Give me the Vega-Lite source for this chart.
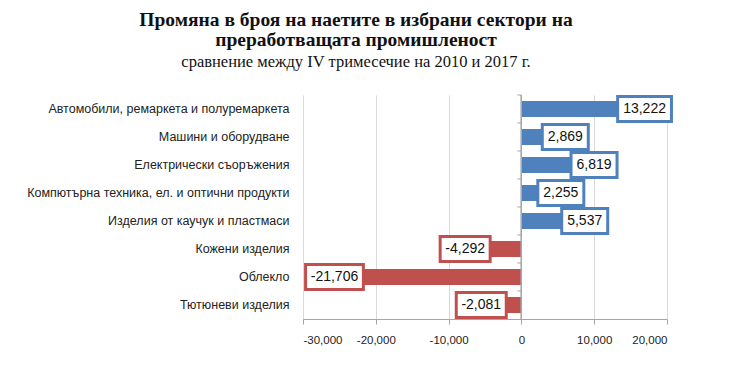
{
  "$schema": "https://vega.github.io/schema/vega-lite/v6.json",
  "width": 364,
  "height": 224,
  "autosize": {"type": "none"},
  "padding": {"left": 303, "top": 95, "right": 63, "bottom": 53},
  "background": "white",
  "title": {
    "text": ["Промяна в броя на наетите в избрани сектори на", "преработващата промишленост"],
    "subtitle": "сравнение между IV тримесечие на 2010 и 2017 г.",
    "anchor": "middle",
    "dx": -129,
    "offset": 22,
    "font": "Liberation Serif",
    "fontSize": 19.5,
    "fontWeight": "bold",
    "lineHeight": 20,
    "color": "#111",
    "subtitleFont": "Liberation Serif",
    "subtitleFontSize": 16.5,
    "subtitleColor": "#111",
    "subtitlePadding": 3
  },
  "config": {
    "view": {"stroke": null},
    "locale": {"number": {"decimal": ".", "thousands": ",", "grouping": [3], "currency": ["", ""], "minus": "-"}},
    "axis": {"labelFont": "Liberation Sans", "labelColor": "#222"}
  },
  "data": {
    "values": [
      {"sector": "Автомобили, ремаркета и полуремаркета", "value": 13222},
      {"sector": "Машини и оборудване", "value": 2869},
      {"sector": "Електрически съоръжения", "value": 6819},
      {"sector": "Компютърна техника, ел. и оптични продукти", "value": 2255},
      {"sector": "Изделия от каучук и пластмаси", "value": 5537},
      {"sector": "Кожени изделия", "value": -4292},
      {"sector": "Облекло", "value": -21706},
      {"sector": "Тютюневи изделия", "value": -2081}
    ]
  },
  "layer": [
    {
      "mark": {"type": "bar", "height": 16},
      "encoding": {
        "x": {
          "field": "value",
          "type": "quantitative",
          "scale": {"domain": [-30000, 20000], "nice": false},
          "axis": {
            "tickCount": 5,
            "format": ",.0f",
            "title": null,
            "grid": true,
            "gridColor": "#d9d9d9",
            "domainColor": "#a6a6a6",
            "tickColor": "#a6a6a6",
            "tickSize": 5,
            "labelFontSize": 11.5,
            "labelPadding": 10
          }
        },
        "y": {
          "field": "sector",
          "type": "nominal",
          "sort": null,
          "title": null,
          "scale": {"paddingInner": 0.43, "paddingOuter": 0.215},
          "axis": {
            "orient": "left",
            "domain": false,
            "ticks": false,
            "labelFontSize": 12.5,
            "labelPadding": 14,
            "labelLimit": 400
          }
        },
        "color": {
          "condition": {"test": "datum.value < 0", "value": "#C0504D"},
          "value": "#4F81BD"
        }
      }
    },
    {
      "mark": {"type": "rule", "color": "#a6a6a6", "strokeWidth": 1},
      "encoding": {
        "x": {"datum": 0, "type": "quantitative"}
      }
    },
    {
      "mark": {"type": "point", "shape": "M-1,0H0", "size": 64, "filled": false, "stroke": "#a6a6a6", "strokeWidth": 1, "opacity": 1, "yOffset": -14},
      "encoding": {
        "x": {"datum": 0, "type": "quantitative"},
        "y": {"field": "sector", "type": "nominal", "sort": null}
      }
    },
    {
      "mark": {
        "type": "bar",
        "height": 25,
        "fill": "white",
        "strokeWidth": 3,
        "xOffset": {"expr": "datum.value < 0 ? -(7 + 7.8*length(format(abs(datum.value), ',')) + 4) : 0"},
        "x2Offset": {"expr": "datum.value < 0 ? 0 : (7 + 7.8*length(format(abs(datum.value), ',')))"}
      },
      "encoding": {
        "x": {"field": "value", "type": "quantitative"},
        "x2": {"field": "value"},
        "y": {"field": "sector", "type": "nominal", "sort": null},
        "stroke": {
          "condition": {"test": "datum.value < 0", "value": "#C0504D"},
          "value": "#4F81BD"
        }
      }
    },
    {
      "mark": {
        "type": "text",
        "font": "Liberation Sans",
        "fontSize": 14,
        "color": "#111",
        "align": "center",
        "baseline": "middle",
        "dx": {"expr": "datum.value < 0 ? -(7 + 7.8*length(format(abs(datum.value), ',')) + 4)/2 : (7 + 7.8*length(format(abs(datum.value), ',')))/2"}
      },
      "encoding": {
        "x": {"field": "value", "type": "quantitative"},
        "y": {"field": "sector", "type": "nominal", "sort": null},
        "text": {"field": "value", "type": "quantitative", "format": ","}
      }
    }
  ]
}
